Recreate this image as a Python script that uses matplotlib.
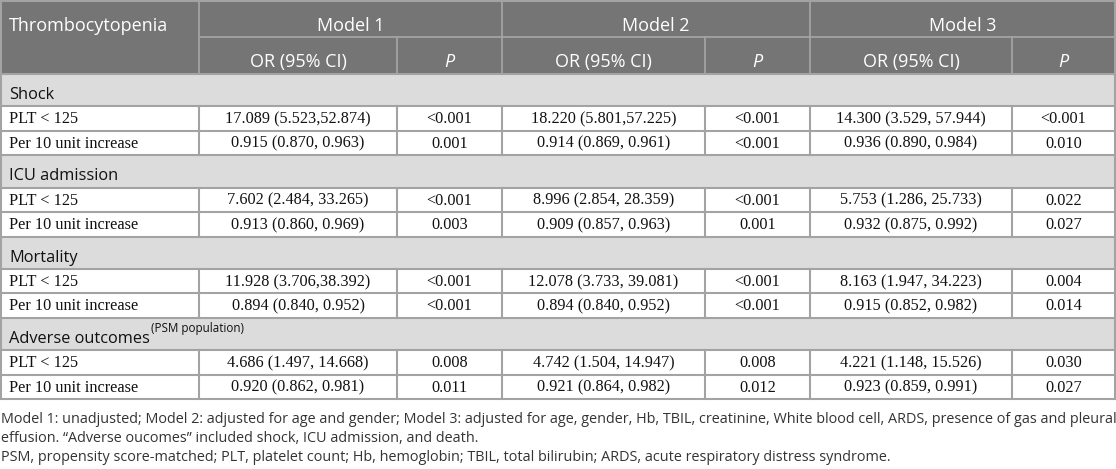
import matplotlib
matplotlib.use('Agg')
import matplotlib.pyplot as plt
from matplotlib.patches import Rectangle

# table content
models = ['Model 1', 'Model 2', 'Model 3']
sub_headers = ['OR (95% CI)', 'P']
sections = ['Shock', 'ICU admission', 'Mortality', 'Adverse outcomes']
section_sup = ['', '', '', '(PSM population)']
row_labels = ['PLT < 125', 'Per 10 unit increase']

m1_or = ['17.089 (5.523,52.874)', '0.915 (0.870, 0.963)',
         '7.602 (2.484, 33.265)', '0.913 (0.860, 0.969)',
         '11.928 (3.706,38.392)', '0.894 (0.840, 0.952)',
         '4.686 (1.497, 14.668)', '0.920 (0.862, 0.981)']
m1_p = ['<0.001', '0.001', '<0.001', '0.003', '<0.001', '<0.001', '0.008', '0.011']
m2_or = ['18.220 (5.801,57.225)', '0.914 (0.869, 0.961)',
         '8.996 (2.854, 28.359)', '0.909 (0.857, 0.963)',
         '12.078 (3.733, 39.081)', '0.894 (0.840, 0.952)',
         '4.742 (1.504, 14.947)', '0.921 (0.864, 0.982)']
m2_p = ['<0.001', '<0.001', '<0.001', '0.001', '<0.001', '<0.001', '0.008', '0.012']
m3_or = ['14.300 (3.529, 57.944)', '0.936 (0.890, 0.984)',
         '5.753 (1.286, 25.733)', '0.932 (0.875, 0.992)',
         '8.163 (1.947, 34.223)', '0.915 (0.852, 0.982)',
         '4.221 (1.148, 15.526)', '0.923 (0.859, 0.991)']
m3_p = ['<0.001', '0.010', '0.022', '0.027', '0.004', '0.014', '0.030', '0.027']

footnotes = [
    'Model 1: unadjusted; Model 2: adjusted for age and gender; Model 3: adjusted for age, gender, Hb, TBIL, creatinine, White blood cell, ARDS, presence of gas and pleural',
    'effusion. \u201cAdverse oucomes\u201d included shock, ICU admission, and death.',
    'PSM, propensity score-matched; PLT, platelet count; Hb, hemoglobin; TBIL, total bilirubin; ARDS, acute respiratory distress syndrome.',
]

# layout (pixels)
W, H = 1116, 469
col_x = [1, 199, 397, 502, 705, 810, 1012, 1115]
head_y = [1, 37, 74]
sec_h = 32.3
row_h = 24.5
head_col = '#757575'
sec_col = '#dcdcdc'
line_col = '#a3a3a3'
txt_col = '#111111'
sans = 'Open Sans'
serif = 'Liberation Serif'

fig = plt.figure(figsize=(W / 100, H / 100), dpi=100)
ax = fig.add_axes([0, 0, 1, 1])
ax.set_xlim(0, W)
ax.set_ylim(H, 0)
ax.axis('off')

# header
ax.add_patch(Rectangle((col_x[0], head_y[0]), col_x[-1] - col_x[0], head_y[2] - head_y[0],
                       facecolor=head_col, edgecolor='none'))
ax.text(9, head_y[0] + 30, 'Thrombocytopenia', color='white', family=sans,
        fontsize=13, ha='left', va='baseline')
for k, m in enumerate(models):
    x0, x1, x2 = col_x[1 + 2 * k], col_x[2 + 2 * k], col_x[3 + 2 * k]
    ax.text((x0 + x2) / 2, head_y[0] + 30, m, color='white', family=sans,
            fontsize=13, ha='center', va='baseline')
    ax.text((x0 + x1) / 2, head_y[1] + 30, sub_headers[0], color='white',
            family=sans, fontsize=13, ha='center', va='baseline')
    ax.text((x1 + x2) / 2, head_y[1] + 30, sub_headers[1], color='white',
            family=sans, fontsize=13, style='italic', ha='center', va='baseline')
    ax.plot([x1, x1], [head_y[1], head_y[2]], color=line_col, lw=1.3)
    ax.plot([x2, x2], [head_y[0], head_y[2]], color=line_col, lw=1.3)
ax.plot([col_x[1], col_x[1]], [head_y[0], head_y[2]], color=line_col, lw=1.3)
ax.plot([col_x[1], col_x[-1]], [head_y[1], head_y[1]], color=line_col, lw=1.3)

# body
cols = [m1_or, m1_p, m2_or, m2_p, m3_or, m3_p]
fig.canvas.draw()
renderer = fig.canvas.get_renderer()
y = head_y[2]
for s, name in enumerate(sections):
    ax.add_patch(Rectangle((col_x[0], y), col_x[-1] - col_x[0], sec_h,
                           facecolor=sec_col, edgecolor='none'))
    t = ax.text(9, y + 25, name, color=txt_col, family=sans, fontsize=11.8,
                ha='left', va='baseline')
    if section_sup[s]:
        bb = t.get_window_extent(renderer)
        ax.text(bb.x1 + 1, y + 4.5, section_sup[s], color=txt_col, family=sans,
                fontsize=8.4, ha='left', va='top')
    ax.plot([col_x[0], col_x[-1]], [y, y], color=line_col, lw=1.5)
    y += sec_h
    for r, lab in enumerate(row_labels):
        i = 2 * s + r
        ax.plot([col_x[0], col_x[-1]], [y, y], color=line_col, lw=1.5)
        ax.text(9, y + 17, lab, color=txt_col, family=serif, fontsize=11.7,
                ha='left', va='baseline')
        for c, vals in enumerate(cols):
            ax.text((col_x[1 + c] + col_x[2 + c]) / 2, y + 17, vals[i],
                    color=txt_col, family=serif, fontsize=11.7, ha='center', va='baseline')
        for xv in col_x[1:-1]:
            ax.plot([xv, xv], [y, y + row_h], color=line_col, lw=1.5)
        y += row_h
table_bottom = y
ax.plot([col_x[0], col_x[-1]], [table_bottom, table_bottom], color=line_col, lw=1.5)
ax.plot([col_x[0], col_x[0]], [head_y[0], table_bottom], color=line_col, lw=1.5)
ax.plot([col_x[-1], col_x[-1]], [head_y[0], table_bottom], color=line_col, lw=1.5)
ax.plot([col_x[0], col_x[-1]], [head_y[0], head_y[0]], color=line_col, lw=1.5)

for j, line in enumerate(footnotes):
    ax.text(1, table_bottom + 24 + j * 19, line, color='#333333', family=sans,
            fontsize=10.35, ha='left', va='baseline')

fig.savefig('out.png', dpi=100)
